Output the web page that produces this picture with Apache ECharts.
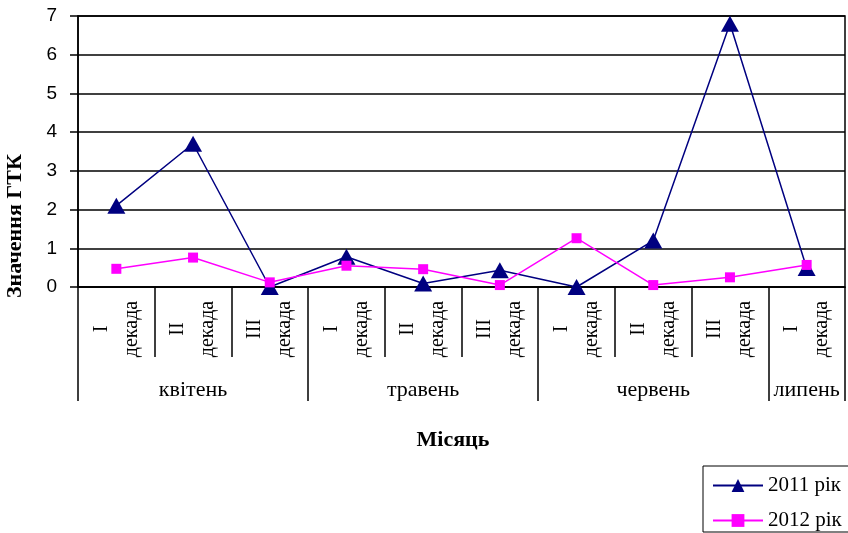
<!DOCTYPE html>
<html>
<head>
<meta charset="utf-8">
<script src="https://cdn.jsdelivr.net/npm/echarts@6/dist/echarts.min.js"></script>
<style>
  html, body { margin: 0; padding: 0; background: #fff; }
  #charts { width: 848px; height: 533px; }
</style>
</head>
<body>
<div id="charts"></div>
<script>
// декади по місяцях
const decades = ['I', 'II', 'III', 'I', 'II', 'III', 'I', 'II', 'III', 'I'];
const months = ['квітень', 'травень', 'червень', 'липень'];
const monthSpan = [3, 3, 3, 1]; // скільки декад у кожному місяці
const yTicks = [0, 1, 2, 3, 4, 5, 6, 7];

const gtk2011 = [2.1, 3.7, 0, 0.78, 0.09, 0.43, 0, 1.2, 6.8, 0.49];
const gtk2012 = [0.47, 0.76, 0.12, 0.55, 0.46, 0.05, 1.26, 0.05, 0.25, 0.57];

const categories = decades.map(d => d + ' декада');

// межі та середини місяців у одиницях декад
let monthEdges = [0];
let monthMid = [];
monthSpan.forEach(n => {
    let start = monthEdges[monthEdges.length - 1];
    monthMid.push(start + n / 2);
    monthEdges.push(start + n);
});

const serif = 'Liberation Serif, Times New Roman, serif';
const sans = 'Liberation Sans, Arial, sans-serif';

let myChart = echarts.init(document.getElementById('charts'));
let option = {
    animation: false,
    backgroundColor: '#fff',
    grid: {
        left: 78,
        right: 3,
        top: 16,
        bottom: 246,
        show: true,
        borderColor: '#000',
        borderWidth: 1.5,
        backgroundColor: '#fff',
        containLabel: false,
        outerBoundsMode: 'none'
    },
    legend: {
        orient: 'vertical',
        left: 703,
        bottom: 1,
        padding: [9, 12, 1, 9],
        itemGap: 14,
        itemWidth: 50,
        itemHeight: 16,
        borderColor: '#000',
        borderWidth: 1,
        textStyle: { fontFamily: serif, fontSize: 21, color: '#000' },
        data: ['2011 рік', '2012 рік']
    },
    xAxis: [
        {
            type: 'category',
            data: categories,
            boundaryGap: true,
            axisLine: { show: true, lineStyle: { color: '#000', width: 1.5 } },
            axisTick: { show: true, interval: 0, length: 70, lineStyle: { color: '#000', width: 1.5 } },
            axisLabel: {
                interval: 0,
                rotate: 90,
                align: 'center',
                verticalAlign: 'middle',
                margin: 42,
                lineHeight: 30,
                fontFamily: serif,
                fontSize: 20,
                color: '#000',
                formatter: v => v.replace(' ', '\n')
            },
            splitLine: { show: false }
        },
        {
            // вісь місяців: довгі роздільники та підписи
            type: 'value',
            position: 'bottom',
            min: 0,
            max: decades.length,
            axisLine: { show: false },
            axisTick: {
                show: true,
                customValues: monthEdges,
                length: 114,
                lineStyle: { color: '#000', width: 1.5 }
            },
            axisLabel: {
                customValues: monthMid,
                margin: 103,
                verticalAlign: 'middle',
                fontFamily: serif,
                fontSize: 22,
                color: '#000',
                formatter: v => months[monthMid.indexOf(v)]
            },
            splitLine: { show: false }
        }
    ],
    yAxis: {
        type: 'value',
        min: yTicks[0],
        max: yTicks[yTicks.length - 1],
        interval: 1,
        axisLine: { show: true, lineStyle: { color: '#000', width: 1.5 } },
        axisTick: { show: true, length: 8, lineStyle: { color: '#000', width: 1.5 } },
        axisLabel: { margin: 21, fontFamily: sans, fontSize: 19, color: '#000' },
        splitLine: { show: true, lineStyle: { color: '#000', width: 1.5 } }
    },
    graphic: [
        {
            type: 'text',
            x: 15,
            y: 298,
            rotation: Math.PI / 2,
            style: {
                text: 'Значення ГТК',
                font: 'bold 22px ' + serif,
                fill: '#000',
                align: 'left',
                verticalAlign: 'middle'
            }
        },
        {
            type: 'text',
            x: 453,
            y: 440,
            style: {
                text: 'Місяць',
                font: 'bold 22px ' + serif,
                fill: '#000',
                align: 'center',
                verticalAlign: 'middle'
            }
        }
    ],
    series: [
        {
            name: '2011 рік',
            type: 'line',
            xAxisIndex: 0,
            data: gtk2011,
            symbol: 'triangle',
            symbolSize: [18, 16],
            lineStyle: { color: '#000080', width: 1.5 },
            itemStyle: { color: '#000080' }
        },
        {
            name: '2012 рік',
            type: 'line',
            xAxisIndex: 0,
            data: gtk2012,
            symbol: 'rect',
            symbolSize: 10,
            lineStyle: { color: '#ff00ff', width: 1.5 },
            itemStyle: { color: '#ff00ff' }
        }
    ]
};
myChart.setOption(option, true);
</script>
</body>
</html>
